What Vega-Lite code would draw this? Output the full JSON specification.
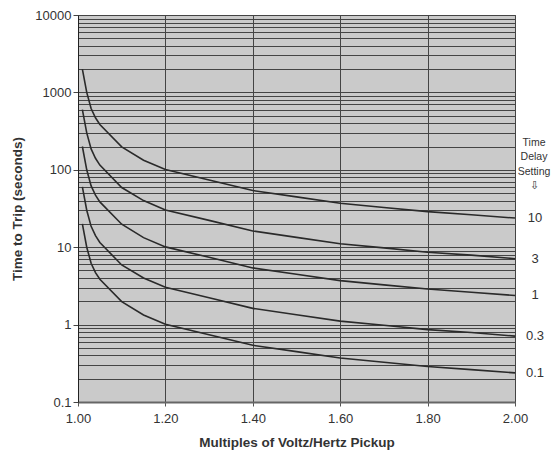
{
  "$schema": "https://vega.github.io/schema/vega-lite/v6.json",
  "width": 437,
  "height": 387,
  "autosize": "none",
  "padding": {"left": 78, "top": 15, "right": 36, "bottom": 53},
  "background": "white",
  "config": {
    "font": "Liberation Sans",
    "view": {"fill": "#cacaca", "stroke": "#555555", "strokeWidth": 1}
  },
  "datasets": {
    "curves": [
      {"td": "10", "m": 1.01, "t": 2000}, {"td": "10", "m": 1.02, "t": 1000}, {"td": "10", "m": 1.03, "t": 620}, {"td": "10", "m": 1.04, "t": 470}, {"td": "10", "m": 1.05, "t": 385}, {"td": "10", "m": 1.1, "t": 198}, {"td": "10", "m": 1.15, "t": 133}, {"td": "10", "m": 1.2, "t": 101}, {"td": "10", "m": 1.3, "t": 74}, {"td": "10", "m": 1.4, "t": 54}, {"td": "10", "m": 1.5, "t": 44.7}, {"td": "10", "m": 1.6, "t": 37}, {"td": "10", "m": 1.7, "t": 32.6}, {"td": "10", "m": 1.8, "t": 28.8}, {"td": "10", "m": 1.9, "t": 26.2}, {"td": "10", "m": 2.0, "t": 23.8},
      {"td": "3", "m": 1.01, "t": 600}, {"td": "3", "m": 1.02, "t": 300}, {"td": "3", "m": 1.03, "t": 186}, {"td": "3", "m": 1.04, "t": 141}, {"td": "3", "m": 1.05, "t": 115}, {"td": "3", "m": 1.1, "t": 59}, {"td": "3", "m": 1.15, "t": 40}, {"td": "3", "m": 1.2, "t": 30.3}, {"td": "3", "m": 1.3, "t": 22.2}, {"td": "3", "m": 1.4, "t": 16.2}, {"td": "3", "m": 1.5, "t": 13.4}, {"td": "3", "m": 1.6, "t": 11.1}, {"td": "3", "m": 1.7, "t": 9.8}, {"td": "3", "m": 1.8, "t": 8.6}, {"td": "3", "m": 1.9, "t": 7.9}, {"td": "3", "m": 2.0, "t": 7.1},
      {"td": "1", "m": 1.01, "t": 200}, {"td": "1", "m": 1.02, "t": 100}, {"td": "1", "m": 1.03, "t": 62}, {"td": "1", "m": 1.04, "t": 47}, {"td": "1", "m": 1.05, "t": 38.5}, {"td": "1", "m": 1.1, "t": 19.8}, {"td": "1", "m": 1.15, "t": 13.3}, {"td": "1", "m": 1.2, "t": 10.1}, {"td": "1", "m": 1.3, "t": 7.4}, {"td": "1", "m": 1.4, "t": 5.4}, {"td": "1", "m": 1.5, "t": 4.47}, {"td": "1", "m": 1.6, "t": 3.7}, {"td": "1", "m": 1.7, "t": 3.26}, {"td": "1", "m": 1.8, "t": 2.88}, {"td": "1", "m": 1.9, "t": 2.62}, {"td": "1", "m": 2.0, "t": 2.38},
      {"td": "0.3", "m": 1.01, "t": 60}, {"td": "0.3", "m": 1.02, "t": 30}, {"td": "0.3", "m": 1.03, "t": 18.6}, {"td": "0.3", "m": 1.04, "t": 14.1}, {"td": "0.3", "m": 1.05, "t": 11.5}, {"td": "0.3", "m": 1.1, "t": 5.9}, {"td": "0.3", "m": 1.15, "t": 4.0}, {"td": "0.3", "m": 1.2, "t": 3.03}, {"td": "0.3", "m": 1.3, "t": 2.22}, {"td": "0.3", "m": 1.4, "t": 1.62}, {"td": "0.3", "m": 1.5, "t": 1.34}, {"td": "0.3", "m": 1.6, "t": 1.11}, {"td": "0.3", "m": 1.7, "t": 0.98}, {"td": "0.3", "m": 1.8, "t": 0.86}, {"td": "0.3", "m": 1.9, "t": 0.79}, {"td": "0.3", "m": 2.0, "t": 0.71},
      {"td": "0.1", "m": 1.01, "t": 20}, {"td": "0.1", "m": 1.02, "t": 10}, {"td": "0.1", "m": 1.03, "t": 6.2}, {"td": "0.1", "m": 1.04, "t": 4.7}, {"td": "0.1", "m": 1.05, "t": 3.85}, {"td": "0.1", "m": 1.1, "t": 1.98}, {"td": "0.1", "m": 1.15, "t": 1.33}, {"td": "0.1", "m": 1.2, "t": 1.01}, {"td": "0.1", "m": 1.3, "t": 0.74}, {"td": "0.1", "m": 1.4, "t": 0.54}, {"td": "0.1", "m": 1.5, "t": 0.447}, {"td": "0.1", "m": 1.6, "t": 0.37}, {"td": "0.1", "m": 1.7, "t": 0.326}, {"td": "0.1", "m": 1.8, "t": 0.288}, {"td": "0.1", "m": 1.9, "t": 0.262}, {"td": "0.1", "m": 2.0, "t": 0.238}
    ],
    "header": [
      {"m": 2.0, "t": 222, "label": "Time\nDelay\nSetting\n⇩"}
    ]
  },
  "encoding": {
    "x": {
      "field": "m",
      "type": "quantitative",
      "scale": {"domain": [1, 2], "nice": false, "zero": false},
      "axis": {
        "title": "Multiples of Voltz/Hertz Pickup",
        "values": [1, 1.2, 1.4, 1.6, 1.8, 2],
        "format": ".2f",
        "grid": true,
        "gridColor": "#444444",
        "gridWidth": 1,
        "tickSize": 4,
        "tickColor": "#555555",
        "domainColor": "#666666",
        "domainWidth": 2,
        "labelFlush": false,
        "labelOverlap": false,
        "labelPadding": 6,
        "labelFontSize": 13,
        "labelColor": "#333333",
        "titleFontSize": 13.5,
        "titleFontWeight": "bold",
        "titleColor": "#333333",
        "titlePadding": 10
      }
    },
    "y": {
      "field": "t",
      "type": "quantitative",
      "scale": {"type": "log", "domain": [0.1, 10000], "nice": false},
      "axis": {
        "title": "Time to Trip (seconds)",
        "values": [0.1, 0.2, 0.3, 0.4, 0.5, 0.6, 0.7, 0.8, 0.9, 1, 2, 3, 4, 5, 6, 7, 8, 9, 10, 20, 30, 40, 50, 60, 70, 80, 90, 100, 200, 300, 400, 500, 600, 700, 800, 900, 1000, 2000, 3000, 4000, 5000, 6000, 7000, 8000, 9000, 10000],
        "labelExpr": "abs(log(datum.value)/LN10 - round(log(datum.value)/LN10)) < 0.001 ? format(datum.value, '.1~f') : ''",
        "tickOpacity": {"condition": {"test": "abs(log(datum.value)/LN10 - round(log(datum.value)/LN10)) < 0.001", "value": 1}, "value": 0},
        "grid": true,
        "gridColor": "#444444",
        "gridWidth": 1,
        "tickSize": 5,
        "tickColor": "#444444",
        "domainColor": "#222222",
        "labelFlush": false,
        "labelOverlap": false,
        "labelPadding": 2,
        "labelFontSize": 13,
        "labelColor": "#333333",
        "titleFontSize": 13.5,
        "titleFontWeight": "bold",
        "titleColor": "#333333",
        "titlePadding": 10
      }
    }
  },
  "layer": [
    {
      "data": {"name": "curves"},
      "mark": {"type": "line", "color": "#2a2a2a", "strokeWidth": 1.6},
      "encoding": {"detail": {"field": "td", "type": "nominal"}}
    },
    {
      "data": {"name": "curves"},
      "transform": [{"filter": "datum.m == 2"}],
      "mark": {"type": "text", "dx": 20, "align": "center", "baseline": "middle", "fontSize": 13, "color": "#333333"},
      "encoding": {"text": {"field": "td", "type": "nominal"}}
    },
    {
      "data": {"name": "header"},
      "mark": {"type": "text", "dx": 19, "align": "center", "baseline": "middle", "fontSize": 10.5, "lineHeight": 14.5, "lineBreak": "\n", "color": "#333333"},
      "encoding": {"text": {"field": "label", "type": "nominal"}}
    }
  ]
}
